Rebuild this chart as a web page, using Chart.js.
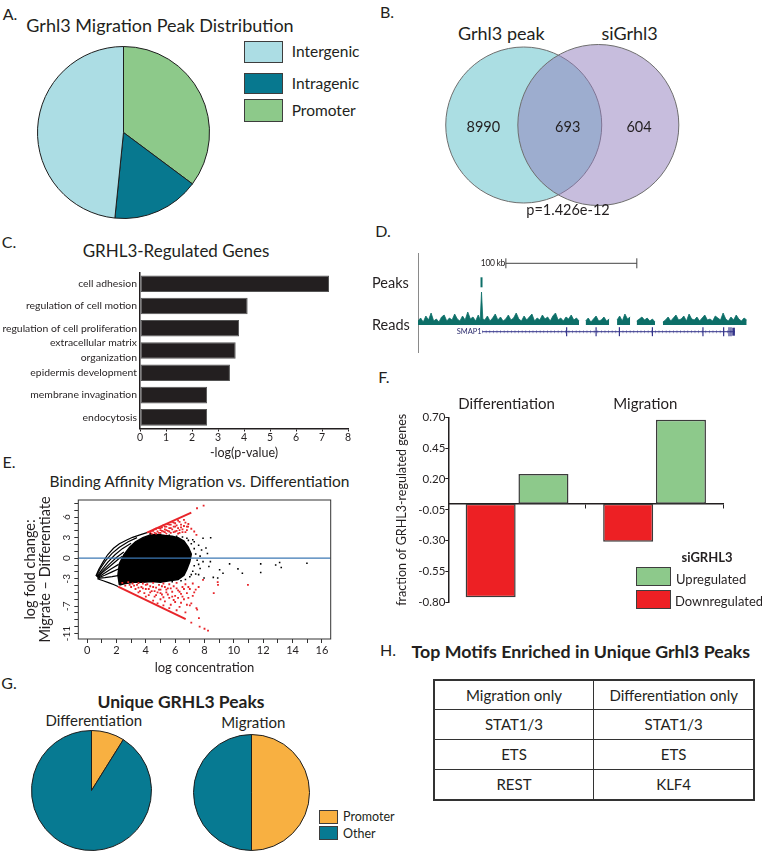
<!DOCTYPE html>
<html>
<head>
<meta charset="utf-8">
<script src="https://cdn.jsdelivr.net/npm/chart.js@4.4.1/dist/chart.umd.min.js"></script>
<style>
  html, body { margin: 0; padding: 0; background: #fff; }
  #fig { position: relative; width: 762px; height: 854px; overflow: hidden;
         font-family: Lato, 'Open Sans', sans-serif; color: #231f20; }
  #fig canvas { position: absolute; }
  .t { position: absolute; white-space: nowrap; line-height: 1; }
  .c { transform: translate(-50%, -50%); }
  .l { transform: translateY(-50%); }
  .r { transform: translate(-100%, -50%); }
  .box { position: absolute; box-sizing: border-box; border: 1.5px solid #3d3d3d; }
  table.motif { position: absolute; border-collapse: collapse; table-layout: fixed;
                border: 2px solid #333; font-size: 15px; }
  table.motif td { border: 1.5px solid #333; text-align: center; padding: 0; }
</style>
</head>
<body>
<div id="fig"></div>
<script>
// ── A. peak distribution (%) ───────────────────────────────
const peakClasses = ['Promoter', 'Intragenic', 'Intergenic'];
const peakShares  = [35.2, 16.4, 48.4];
const peakColors  = ['#8dc98a', '#07788f', '#acdde4'];
const peakLegend  = ['Intergenic', 'Intragenic', 'Promoter'];

// ── B. overlap counts ──────────────────────────────────────
const vennSets   = ['Grhl3 peak', 'siGrhl3'];
const vennCounts = [8990, 693, 604];   // only A, A∩B, only B
const vennP      = 'p=1.426e-12';

// ── C. GO terms ────────────────────────────────────────────
const goTerms = ['cell adhesion', 'regulation of cell motion', 'regulation of cell proliferation',
                 ['extracellular matrix', 'organization'], 'epidermis development',
                 'membrane invagination', 'endocytosis'];
const goLogP  = [7.27, 4.14, 3.81, 3.68, 3.46, 2.58, 2.58];

// ── D. browser track (kb from left edge, read height) ──────
const readsKb = [0, 2, 4, 6, 8, 10, 12, 14, 16, 18, 20, 22, 24, 26, 28, 30, 32, 34, 36, 38, 40, 42, 44, 46,
                 47.5, 48.5, 49.5,
                 51, 53, 55, 57, 59, 61, 63, 65, 67, 69, 71, 73, 75, 77, 79, 81, 83, 85, 87, 89, 91, 93, 95, 97,
                 99, 101, 103, 105, 107, 109, 111, 113, 115, 117, 119, 121, 123,
                 125,
                 128, 130, 132, 134, 136, 138, 140, 142, 144, 146,
                 149,
                 152, 154, 156, 158, 160, 162,
                 165,
                 167, 169, 171, 173, 175, 177, 179, 181,
                 184,
                 187, 189, 191, 193, 195, 197, 199, 201, 203, 205, 207, 209, 211, 213, 215, 217, 219, 221, 223,
                 225, 227, 229, 231, 233, 235, 237, 239, 241, 243, 245, 247, 249, 251];
const readsSignal = [4, 7, 3, 9, 5, 12, 4, 6, 3, 8, 10, 4, 7, 5, 11, 6, 4, 9, 5, 13, 6, 8, 4, 10,
                 5, 33, 6,
                 5, 9, 4, 7, 11, 5, 8, 4, 6, 10, 5, 7, 12, 6, 4, 9, 5, 8, 11, 4, 7, 5, 10, 6,
                 8, 4, 9, 12, 5, 7, 4, 8, 6, 10, 5, 7, 4,
                 null,
                 4, 7, 3, 6, 9, 4, 5, 8, 4, 6,
                 null,
                 5, 9, 4, 11, 6, 8,
                 null,
                 4, 6, 8, 5, 7, 4, 6, 3,
                 null,
                 3, 5, 8, 4, 7, 10, 5, 6, 9, 4, 11, 6, 5, 8, 4, 7, 10, 5, 6,
                 4, 9, 7, 5, 12, 6, 4, 8, 5, 10, 6, 4, 7, 5];
const peakCallKb = 48.5;
const geneName   = 'SMAP1';
const geneSpanKb = [49, 242];
const exonKb     = [113.5, 136, 153.8, 179, 217.6, 233.4, 237.5, 239];
const lastExonKb = [240, 242];
const scaleBarKb = [67.1, 167.1];

// ── E. MA plot (log concentration, log fold change) ────────
// low-count fan on the left
const fanCurves = [
  [[0.6, -2.6], [0.8, -1.6], [1.1, -0.5], [1.4, 0.5], [1.8, 1.45], [2.2, 2.1], [2.7, 2.67], [3.1, 3.05], [3.6, 3.4], [4.08, 3.74]],
  [[0.62, -2.65], [0.9, -1.5], [1.25, -0.4], [1.7, 0.7], [2.2, 1.6], [2.8, 2.4], [3.4, 3.0]],
  [[0.65, -2.7], [1.0, -1.7], [1.4, -0.6], [1.9, 0.5], [2.4, 1.4], [3.0, 2.2]],
  [[0.68, -2.75], [1.05, -1.9], [1.5, -0.9], [2.0, 0.1], [2.5, 0.9]],
  [[0.7, -2.8], [1.1, -2.0], [1.6, -1.1], [2.1, -0.2], [2.4, 0.3]],
  [[0.72, -2.85], [1.15, -2.25], [1.65, -1.55], [2.15, -0.9]],
  [[0.75, -2.9], [1.2, -2.5], [1.7, -2.0], [2.2, -1.5]],
  [[0.72, -2.95], [1.2, -2.85], [1.7, -2.7], [2.2, -2.5]],
  [[0.7, -3.0], [1.1, -3.3], [1.5, -3.6], [1.8, -3.85], [2.11, -4.14]]
];
// dense central cloud
const coreOutline = [[2.2, -3.9], [2.1, -2.5], [2.2, -0.8], [2.5, 0.5], [2.9, 1.6], [3.3, 2.4], [3.8, 3.0],
  [4.3, 3.4], [4.8, 3.45], [5.3, 3.3], [5.8, 3.2], [6.2, 3.0], [6.6, 2.5], [6.9, 1.6], [7.1, 0.6], [7.0, -0.5],
  [6.8, -1.6], [6.6, -2.5], [6.2, -3.1], [5.6, -3.3], [5.0, -3.5], [4.4, -3.4], [3.8, -3.5], [3.2, -3.5],
  [2.6, -3.7], [2.2, -3.9]];
const blackPoints = [[6.9, 2.6], [7.1, 2.1], [7.3, 1.4], [7.4, 0.6], [7.5, -0.3], [7.3, -1.1], [7.2, -1.9], [7.0, -2.7],
  [6.7, -3.1], [7.6, 1.9], [7.8, 1.2], [8.1, 1.5], [8.2, 0.7], [7.9, -0.5], [8.4, -0.5], [7.7, -1.5], [7.97, -2.9],
  [8.6, -2.8], [7.9, 2.9], [8.42, 3.0], [6.5, 3.1], [6.8, 2.9], [4.3, 3.55], [5.0, 3.45], [5.6, 3.35], [6.1, 3.2],
  [6.4, -3.3], [5.8, -3.45], [3.5, -3.6], [7.6, -2.4], [8.3, -1.2], [9.71, -0.83], [9.03, -1.7], [9.26, -2.2],
  [10.28, -1.56], [10.58, -2.2], [11.83, -0.83], [11.83, -2.1], [12.85, -1.0], [13.12, -0.64], [13.23, -1.37],
  [14.98, -0.73], [8.9, -2.9], [7.2, 2.7], [7.4, -2.3], [7.7, 0.3], [7.3, 2.4], [7.6, -0.9], [7.1, -2.4]];
const redPoints = [[4.3, 3.8], [4.4, 3.6], [4.5, 4.0], [4.6, 3.7], [4.6, 4.2], [4.8, 3.9], [4.9, 4.4], [5.0, 3.7],
  [5.0, 4.1], [5.1, 4.5], [5.2, 3.9], [5.2, 4.8], [5.3, 4.2], [5.4, 3.6], [5.4, 4.6], [5.5, 5.0], [5.5, 4.0],
  [5.6, 4.4], [5.7, 3.7], [5.7, 4.9], [5.8, 5.3], [5.8, 4.2], [5.9, 3.8], [6.0, 4.6], [6.0, 5.1], [6.1, 4.0],
  [6.2, 5.5], [6.2, 4.4], [6.3, 3.7], [6.4, 4.9], [6.5, 4.2], [6.6, 5.6], [6.7, 3.8], [6.8, 4.6], [6.9, 5.0],
  [7.1, 4.3], [7.3, 3.9], [6.88, 4.6], [7.45, 3.4], [7.49, 7.3], [7.94, 7.68],
  [4.4, 4.0], [4.7, 3.6], [4.9, 3.7], [5.1, 4.0], [5.3, 4.6], [5.4, 4.1], [5.6, 3.9], [5.6, 4.9], [5.7, 4.4],
  [5.9, 4.6], [5.9, 5.2], [6.0, 3.9], [6.1, 4.8], [6.3, 4.1], [6.3, 5.3], [6.4, 4.5], [6.5, 3.8], [6.6, 4.7],
  [6.7, 5.2], [6.8, 4.1], [5.0, 4.4], [5.3, 3.8], [4.7, 4.3], [6.2, 3.6],
  [2.4, -3.6], [2.6, -4.0], [2.8, -3.5], [3.0, -4.2], [3.1, -3.7], [3.3, -4.5], [3.4, -3.9], [3.5, -3.6],
  [3.6, -4.8], [3.7, -4.2], [3.8, -3.7], [3.9, -5.1], [4.0, -4.5], [4.1, -3.8], [4.2, -5.4], [4.3, -4.1],
  [4.4, -4.8], [4.5, -3.6], [4.6, -5.6], [4.7, -4.3], [4.8, -5.0], [4.9, -3.9], [5.0, -6.0], [5.0, -4.6],
  [5.1, -5.3], [5.2, -3.7], [5.3, -4.2], [5.3, -6.3], [5.4, -5.0], [5.5, -4.4], [5.6, -5.8], [5.6, -3.8],
  [5.7, -6.8], [5.8, -4.9], [5.9, -4.1], [6.0, -5.5], [6.0, -6.4], [6.1, -3.6], [6.2, -4.7], [6.3, -7.1],
  [6.4, -5.2], [6.5, -4.2], [6.6, -6.0], [6.7, -3.8], [6.8, -5.1], [7.0, -4.5], [7.1, -6.6], [7.3, -5.0],
  [7.5, -7.5], [7.2, -3.7], [7.6, -4.2], [7.9, -3.17], [8.92, -3.9], [8.63, -5.1], [7.45, -7.3], [7.62, -8.76],
  [10.96, -3.9], [7.1, -9.4], [7.67, -10.0], [8.0, -10.3], [8.24, -10.57], [8.9, -3.5], [4.5, -6.2], [4.0, -5.6],
  [3.5, -5.0], [5.2, -6.9], [4.8, -6.6],
  [2.9, -3.9], [3.2, -4.0], [3.5, -4.3], [3.8, -4.4], [4.0, -3.9], [4.2, -4.5], [4.3, -5.0], [4.5, -4.2],
  [4.6, -4.8], [4.7, -5.4], [4.9, -4.6], [5.0, -5.1], [5.1, -4.1], [5.2, -5.7], [5.4, -4.6], [5.5, -5.3],
  [5.7, -4.4], [5.8, -5.6], [5.9, -6.1], [6.1, -4.4], [6.2, -5.8], [6.3, -4.9], [6.4, -6.5], [6.5, -5.6],
  [6.6, -4.5], [6.9, -5.8], [6.9, -4.2], [7.0, -6.9], [7.2, -5.5], [7.4, -4.6], [5.6, -7.3], [6.1, -7.6],
  [6.7, -7.9], [6.8, -6.8]];
const redUpperEdge = [[4.08, 3.74], [7.1, 6.66]];
const redLowerEdge = [[2.11, -4.14], [6.72, -8.9]];
const maYLabels = [6, 3, 0, -3, -7, -11];

// ── F. fraction of GRHL3-regulated genes ───────────────────
const fCategories = ['Differentiation', 'Migration'];
const fDown = [-0.76, -0.31];
const fUp   = [0.24, 0.68];

// ── G. unique peaks (%) ────────────────────────────────────
const uniqueClasses = ['Promoter', 'Other'];
const uniqueDiff = [8.9, 91.1];
const uniqueMig  = [50, 50];
const uniqueColors = ['#f8b041', '#077a92'];

// ── H. motifs ──────────────────────────────────────────────
const motifHeader = ['Migration only', 'Differentiation only'];
const motifMigration = ['STAT1/3', 'ETS', 'REST'];
const motifDifferentiation = ['STAT1/3', 'ETS', 'KLF4'];

// ───────────────────────────────────────────────────────────
Chart.defaults.font.family = "Lato, 'Open Sans', sans-serif";
Chart.defaults.color = '#231f20';
Chart.defaults.layout.autoPadding = false;
const INK = '#231f20';
const fig = document.getElementById('fig');
const xy = pts => pts.map(p => ({ x: p[0], y: p[1] }));
const quiet = { legend: { display: false }, tooltip: { enabled: false } };

function addText(str, x, y, size, cls = 'c', extra = {}) {
  const d = document.createElement('div');
  d.className = 't ' + cls;
  d.textContent = str;
  d.style.left = x + 'px';
  d.style.top = y + 'px';
  d.style.fontSize = size + 'px';
  Object.assign(d.style, extra);
  fig.appendChild(d);
  return d;
}
function addBox(x, y, w, h, color) {
  const d = document.createElement('div');
  d.className = 'box';
  Object.assign(d.style, { left: x + 'px', top: y + 'px', width: w + 'px', height: h + 'px', background: color });
  fig.appendChild(d);
}
function makeCanvas(left, top, w, h) {
  const c = document.createElement('canvas');
  c.width = w; c.height = h;
  Object.assign(c.style, { left: left + 'px', top: top + 'px', width: w + 'px', height: h + 'px' });
  fig.appendChild(c);
  return c;
}
function pie(left, top, size, labels, values, colors) {
  return new Chart(makeCanvas(left, top, size, size), {
    type: 'pie',
    data: { labels, datasets: [{ data: values, backgroundColor: colors, borderColor: '#1e1e1e',
                                 borderWidth: 1, hoverOffset: 0 }] },
    options: { responsive: false, animation: false, events: [], plugins: quiet }
  });
}

// panel letters
[['A.', 10, 14], ['B.', 387, 12], ['C.', 9, 242], ['D.', 383, 231],
 ['E.', 9, 462], ['F.', 384, 377], ['G.', 9, 683], ['H.', 388, 650]]
  .forEach(([s, x, y]) => addText(s, x, y, 16));

// ── A ──
addText('Grhl3 Migration Peak Distribution', 160, 25, 18);
pie(37, 46, 173, peakClasses, peakShares, peakColors);
[[40.7, 22], [72.7, 21.3], [99.3, 22.4]].forEach(([y, h], i) => {
  const name = peakLegend[i];
  addBox(244.3, y, 38.4, h, peakColors[peakClasses.indexOf(name)]);
  addText(name, 291.7, y + h / 2 + 0.5, 15.5, 'l');
});

// ── B ──
new Chart(makeCanvas(443, 44, 240, 162), {
  type: 'scatter',
  data: { datasets: [
    { label: vennSets[1], data: [{ x: 1, y: 0 }], pointRadius: 80.5, backgroundColor: 'rgba(143,123,188,0.5)',
      borderColor: '#6e6e6e', borderWidth: 1, clip: false },
    { label: vennSets[0], data: [{ x: 0, y: 0 }], pointRadius: 78, backgroundColor: '#abdee3',
      borderColor: '#6e6e6e', borderWidth: 1, clip: false }
  ] },
  options: { responsive: false, animation: false, events: [], plugins: quiet,
    scales: { x: { display: false, min: -1.082, max: 2.135 }, y: { display: false, min: -1, max: 1 } } }
});
addText(vennSets[0], 501.3, 33.3, 18);
addText(vennSets[1], 629.7, 33, 18);
[483.3, 567.7, 639].forEach((x, i) => addText(String(vennCounts[i]), x, 127.3, 14.5));
addText(vennP, 568, 210, 14.5);

// ── C ──
addText('GRHL3-Regulated Genes', 176, 250, 17);
new Chart(makeCanvas(0, 262, 360, 200), {
  type: 'bar',
  data: { labels: goTerms, datasets: [{ data: goLogP, backgroundColor: INK, borderColor: '#555', borderWidth: 1,
                                        borderSkipped: false, barPercentage: 0.745, categoryPercentage: 1 }] },
  options: {
    indexAxis: 'y', responsive: false, animation: false, events: [], plugins: quiet,
    layout: { padding: { top: 4, right: 12, left: 0, bottom: 0 } },
    scales: {
      x: { min: 0, max: 8, ticks: { stepSize: 1, font: { size: 10.5 }, padding: 0, color: INK },
           grid: { drawOnChartArea: false, tickLength: 3, color: INK }, border: { color: INK, width: 1.5 },
           title: { display: true, text: '-log(p-value)', font: { size: 12.5 }, padding: { top: 0, bottom: 2 }, color: INK },
           afterFit: s => { s.height = 33.5; } },
      y: { grid: { display: false, drawTicks: false }, border: { color: INK, width: 1.5 },
           ticks: { autoSkip: false, font: { size: 10.4, lineHeight: 1.45 }, padding: 3, color: INK },
           afterFit: s => { s.width = 140; } }
    }
  }
});

// ── D ──
const trackLine = document.createElement('div');
Object.assign(trackLine.style, { position: 'absolute', left: '418px', top: '253px', width: '0', height: '100px',
                                 borderLeft: '1px solid #8a8a8a' });
fig.appendChild(trackLine);
const TEAL = '#0d6f68', NAVY = '#34348a';
new Chart(makeCanvas(418, 255, 330, 85), {
  type: 'scatter',
  data: { datasets: [
    { type: 'line', data: readsKb.map((k, i) => ({ x: k, y: readsSignal[i] })), fill: 'origin',
      borderColor: TEAL, backgroundColor: TEAL, borderWidth: 0.8, pointRadius: 0, spanGaps: false, tension: 0 },
    { type: 'line', data: [{ x: peakCallKb, y: 37.7 }, { x: peakCallKb, y: 47.7 }], borderColor: TEAL,
      borderWidth: 2, pointRadius: 0 },
    { type: 'line', data: [{ x: geneSpanKb[0], y: -6.7 }, { x: geneSpanKb[1], y: -6.7 }], borderColor: NAVY,
      borderWidth: 1, pointRadius: 0 },
    { type: 'line', data: [{ x: geneSpanKb[0], y: -6.7 }, { x: geneSpanKb[1], y: -6.7 }],
      borderColor: 'rgba(52,52,138,0.55)', borderWidth: 3, borderDash: [0.8, 2.8], pointRadius: 0 },
    { data: exonKb.map(k => ({ x: k, y: -6.7 })), pointStyle: 'line', rotation: 90, pointRadius: 4.5,
      borderColor: NAVY, borderWidth: 1.2 },
    { type: 'line', data: [{ x: lastExonKb[0], y: -6.7 }, { x: lastExonKb[1], y: -6.7 }], borderColor: NAVY,
      borderWidth: 8, pointRadius: 0 },
    { type: 'line', data: [{ x: scaleBarKb[0], y: 61.7 }, { x: scaleBarKb[1], y: 61.7 }], borderColor: '#444',
      borderWidth: 1, pointStyle: 'line', rotation: 90, pointRadius: 5, pointBorderColor: '#444' }
  ] },
  options: { responsive: false, animation: false, events: [], plugins: quiet,
    scales: { x: { type: 'linear', display: false, min: 0, max: 252 }, y: { display: false, min: -15, max: 70 } } }
});
addText('100 kb', 505, 263.3, 8.5, 'r', { letterSpacing: '-0.3px' });
addText(geneName, 456.7, 331.7, 7.5, 'l', { color: '#2d2d6e' });
addText('Peaks', 372, 283, 14.5, 'l');
addText('Reads', 372, 325, 14.5, 'l');

// ── E ──
addText('Binding Affinity Migration vs. Differentiation', 199.5, 481.7, 15.5);
const framePlugin = {
  id: 'frame',
  afterDraw(chart) {
    const { ctx, chartArea: a } = chart;
    ctx.save(); ctx.strokeStyle = '#333'; ctx.lineWidth = 1;
    ctx.strokeRect(a.left, a.top, a.right - a.left, a.bottom - a.top);
    ctx.restore();
  }
};
const maDatasets = [
  { type: 'line', data: [{ x: -0.6, y: 0 }, { x: 16.6, y: 0 }], borderColor: '#3c78b4', borderWidth: 1.2, pointRadius: 0 },
  { data: xy(redPoints), pointStyle: 'rect', pointRadius: 1.3, backgroundColor: '#e8252a', borderWidth: 0 },
  { data: xy(redUpperEdge), showLine: true, borderColor: '#e8252a', borderWidth: 2, pointRadius: 0 },
  { data: xy(redLowerEdge), showLine: true, borderColor: '#e8252a', borderWidth: 2, pointRadius: 0 },
  { data: xy(blackPoints), pointStyle: 'rect', pointRadius: 1.1, backgroundColor: '#000', borderWidth: 0 },
  { data: xy(coreOutline), showLine: true, fill: 'shape', backgroundColor: '#000', borderColor: '#000',
    borderWidth: 1.5, pointRadius: 0 }
].concat(fanCurves.map(c => ({ data: xy(c), showLine: true, borderColor: '#000', borderWidth: 1.2, pointRadius: 0 })));
new Chart(makeCanvas(0, 494, 340, 186), {
  type: 'scatter',
  data: { datasets: maDatasets },
  plugins: [framePlugin],
  options: {
    responsive: false, animation: false, events: [], plugins: quiet,
    layout: { padding: { top: 6, right: 9.3, left: 0, bottom: 0 } },
    scales: {
      x: { min: -0.6, max: 16.6,
           ticks: { stepSize: 1, includeBounds: false, autoSkip: false, maxRotation: 0,
                    callback: v => (v % 2 === 0 ? v : ''), font: { size: 11 }, padding: 1, color: INK },
           grid: { drawOnChartArea: false, tickLength: 4, color: '#333' }, border: { display: false },
           title: { display: true, text: 'log concentration', font: { size: 13 }, padding: { top: 0, bottom: 4 }, color: INK },
           afterFit: s => { s.height = 41; } },
      y: { min: -11.8, max: 8.5,
           ticks: { stepSize: 1, includeBounds: false, autoSkip: false, minRotation: 90, maxRotation: 90,
                    crossAlign: 'center', padding: 0, font: { size: 10 }, color: INK,
                    callback: v => (maYLabels.includes(v) ? v : '') },
           grid: { drawOnChartArea: false, tickLength: 4, color: '#333' }, border: { display: false },
           title: { display: true, text: ['log fold change:', 'Migrate \u2013 Differentiate'],
                    font: { size: 14.5, lineHeight: 1.05 }, padding: { top: 22.4, bottom: 0 }, color: INK },
           afterFit: s => { s.width = 78.3; } }
    }
  }
});

// ── F ──
new Chart(makeCanvas(380, 405, 350, 210), {
  type: 'bar',
  data: { labels: fCategories, datasets: [
    { label: 'Downregulated', data: fDown, backgroundColor: '#ed2024' },
    { label: 'Upregulated', data: fUp, backgroundColor: '#8dc98b' }
  ] },
  options: {
    responsive: false, animation: false, events: [], plugins: quiet,
    datasets: { bar: { borderColor: '#3b3b3b', borderWidth: 1.5, borderSkipped: false,
                       categoryPercentage: 0.768, barPercentage: 0.947 } },
    layout: { padding: { top: 12.3, right: 6.7, bottom: 12.7, left: 0 } },
    scales: {
      x: { position: { y: 0 }, ticks: { display: false },
           grid: { drawOnChartArea: false, tickLength: 4, color: INK, offset: true },
           border: { color: INK, width: 1.5 } },
      y: { min: -0.8, max: 0.7,
           ticks: { stepSize: 0.25, callback: v => v.toFixed(2), font: { size: 11.5 }, padding: 0, color: INK },
           grid: { drawOnChartArea: false, tickLength: 3, color: INK }, border: { color: INK, width: 1.5 },
           title: { display: true, text: 'fraction of GRHL3-regulated genes', font: { size: 12.5 },
                    padding: { top: 14.8, bottom: 0 }, color: INK },
           afterFit: s => { s.width = 68.3; } }
    }
  }
});
addText(fCategories[0], 506.5, 402.7, 15);
addText(fCategories[1], 645.3, 402.7, 15);
addText('siGRHL3', 707, 556.7, 13, 'c', { fontWeight: 'bold' });
addBox(636, 567.3, 34.7, 18.4, '#8dc98b');
addBox(636, 590, 35, 19, '#ed2024');
addText('Upregulated', 676, 579, 13, 'l');
addText('Downregulated', 675, 600.5, 13, 'l');

// ── G ──
addText('Unique GRHL3 Peaks', 181, 701.7, 17.5, 'c', { fontWeight: 'bold' });
addText('Differentiation', 93.8, 720, 15);
addText('Migration', 253.3, 721.7, 15);
pie(31, 730, 121, uniqueClasses, uniqueDiff, uniqueColors);
pie(193, 734, 117, uniqueClasses, uniqueMig, uniqueColors);
uniqueClasses.forEach((name, i) => {
  addBox(319.3, 810 + i * 16, 19, 14, uniqueColors[i]);
  addText(name, 343, 817 + i * 17, 12.5, 'l');
});

// ── H ──
addText('Top Motifs Enriched in Unique Grhl3 Peaks', 580.8, 651.7, 17.8, 'c', { fontWeight: 'bold' });
const tbl = document.createElement('table');
tbl.className = 'motif';
Object.assign(tbl.style, { left: '432.7px', top: '679px', width: '322.3px' });
const rowH = [29.3, 30, 30, 30.7];
[motifHeader].concat(motifMigration.map((m, i) => [m, motifDifferentiation[i]])).forEach((cells, r) => {
  const tr = document.createElement('tr');
  tr.style.height = rowH[r] + 'px';
  cells.forEach(c => { const td = document.createElement('td'); td.textContent = c; tr.appendChild(td); });
  tbl.appendChild(tr);
});
fig.appendChild(tbl);
</script>
</body>
</html>
